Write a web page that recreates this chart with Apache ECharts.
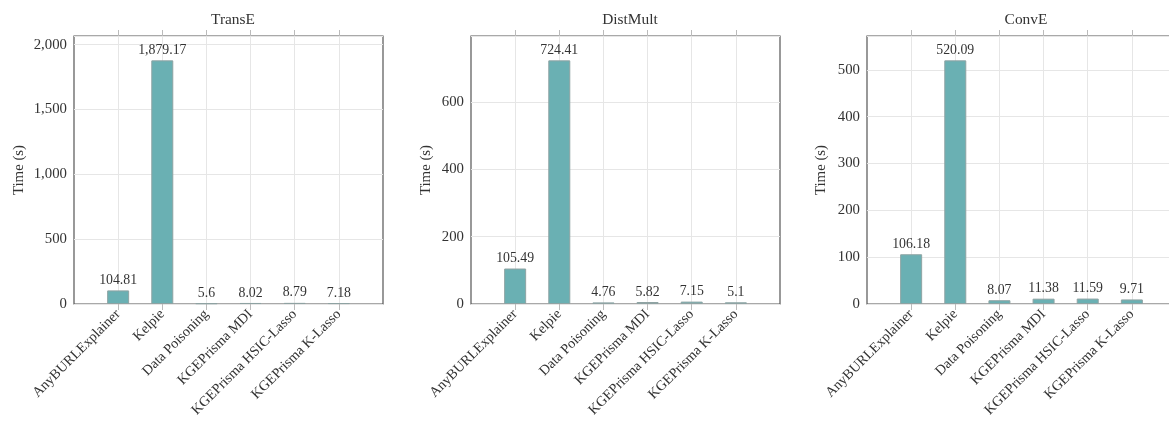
<!DOCTYPE html>
<html>
<head>
<meta charset="utf-8">
<script src="https://cdn.jsdelivr.net/npm/echarts@6/dist/echarts.min.js"></script>
<style>
  html, body { margin: 0; padding: 0; background: #fff; }
  #chart { width: 1169px; height: 425px; }
</style>
</head>
<body>
<div id="chart"></div>
<script>
// method names, same order in every panel
var methods = ['AnyBURLExplainer', 'Kelpie', 'Data Poisoning', 'KGEPrisma MDI', 'KGEPrisma HSIC-Lasso', 'KGEPrisma K-Lasso'];
var models = ['TransE', 'DistMult', 'ConvE'];
// run time in seconds
var transE = [104.81, 1879.17, 5.6, 8.02, 8.79, 7.18];
var distMult = [105.49, 724.41, 4.76, 5.82, 7.15, 5.1];
var convE = [106.18, 520.09, 8.07, 11.38, 11.59, 9.71];
var yMax = [2067.09, 796.85, 572.10];
var yStep = [500, 200, 100];

var allData = [transE, distMult, convE];
var lefts = [74, 471, 867];
var nameGaps = [47, 37, 38];
var font = '"Liberation Serif", "DejaVu Serif", serif';
var idx = [0, 1, 2, 3, 4, 5];

var titles = [], grids = [], xAxes = [], yAxes = [], series = [];
models.forEach(function (m, i) {
    titles.push({
        text: m,
        left: lefts[i] + 154,
        top: 7,
        textAlign: 'center',
        textStyle: { fontFamily: font, fontSize: 15.4, fontWeight: 'normal', color: '#333' }
    });
    grids.push({
        left: lefts[i], top: 36, width: 309, height: 268,
        outerBoundsMode: 'none', containLabel: false,
        show: true, borderColor: '#555', borderWidth: 1.2, backgroundColor: 'transparent'
    });
    xAxes.push({
        type: 'value', gridIndex: i, min: -1, max: 6, interval: 1,
        axisLine: { show: false },
        axisTick: { show: true, length: 6, customValues: idx, lineStyle: { color: '#bbb' } },
        splitLine: { show: true, lineStyle: { color: '#e6e6e6' } },
        axisLabel: {
            customValues: idx, rotate: 45, margin: 8,
            fontFamily: font, fontSize: 14.2, color: '#333',
            formatter: function (v) { return methods[v] || ''; }
        }
    });
    xAxes.push({
        type: 'value', gridIndex: i, position: 'top', min: -1, max: 6, interval: 1,
        axisLine: { show: false },
        axisTick: { show: true, length: 6, customValues: idx, lineStyle: { color: '#bbb' } },
        splitLine: { show: false },
        axisLabel: { show: false }
    });
    yAxes.push({
        type: 'value', gridIndex: i, min: 0, max: yMax[i], interval: yStep[i],
        name: 'Time (s)', nameLocation: 'middle', nameGap: nameGaps[i],
        nameTextStyle: { fontFamily: font, fontSize: 14.8, color: '#333' },
        axisLine: { show: false },
        axisTick: { show: false },
        splitLine: { show: true, lineStyle: { color: '#e6e6e6' } },
        axisLabel: {
            showMaxLabel: false, margin: 7,
            fontFamily: font, fontSize: 14.8, color: '#333',
            formatter: function (v) { return v.toLocaleString('en-US'); }
        }
    });
    series.push({
        type: 'bar',
        xAxisIndex: i * 2, yAxisIndex: i,
        barWidth: 22,
        data: allData[i].map(function (v, k) { return [k, v]; }),
        itemStyle: { color: '#6AB0B3', borderColor: '#8fa3a3', borderWidth: 1 },
        label: {
            show: true, position: 'top', distance: 3,
            fontFamily: font, fontSize: 13.8, color: '#333',
            formatter: function (p) { return p.value[1].toLocaleString('en-US', { maximumFractionDigits: 2 }); }
        }
    });
});

var myChart = echarts.init(document.getElementById('chart'));
myChart.setOption({
    animation: false,
    title: titles,
    grid: grids,
    xAxis: xAxes,
    yAxis: yAxes,
    series: series
});
</script>
</body>
</html>
